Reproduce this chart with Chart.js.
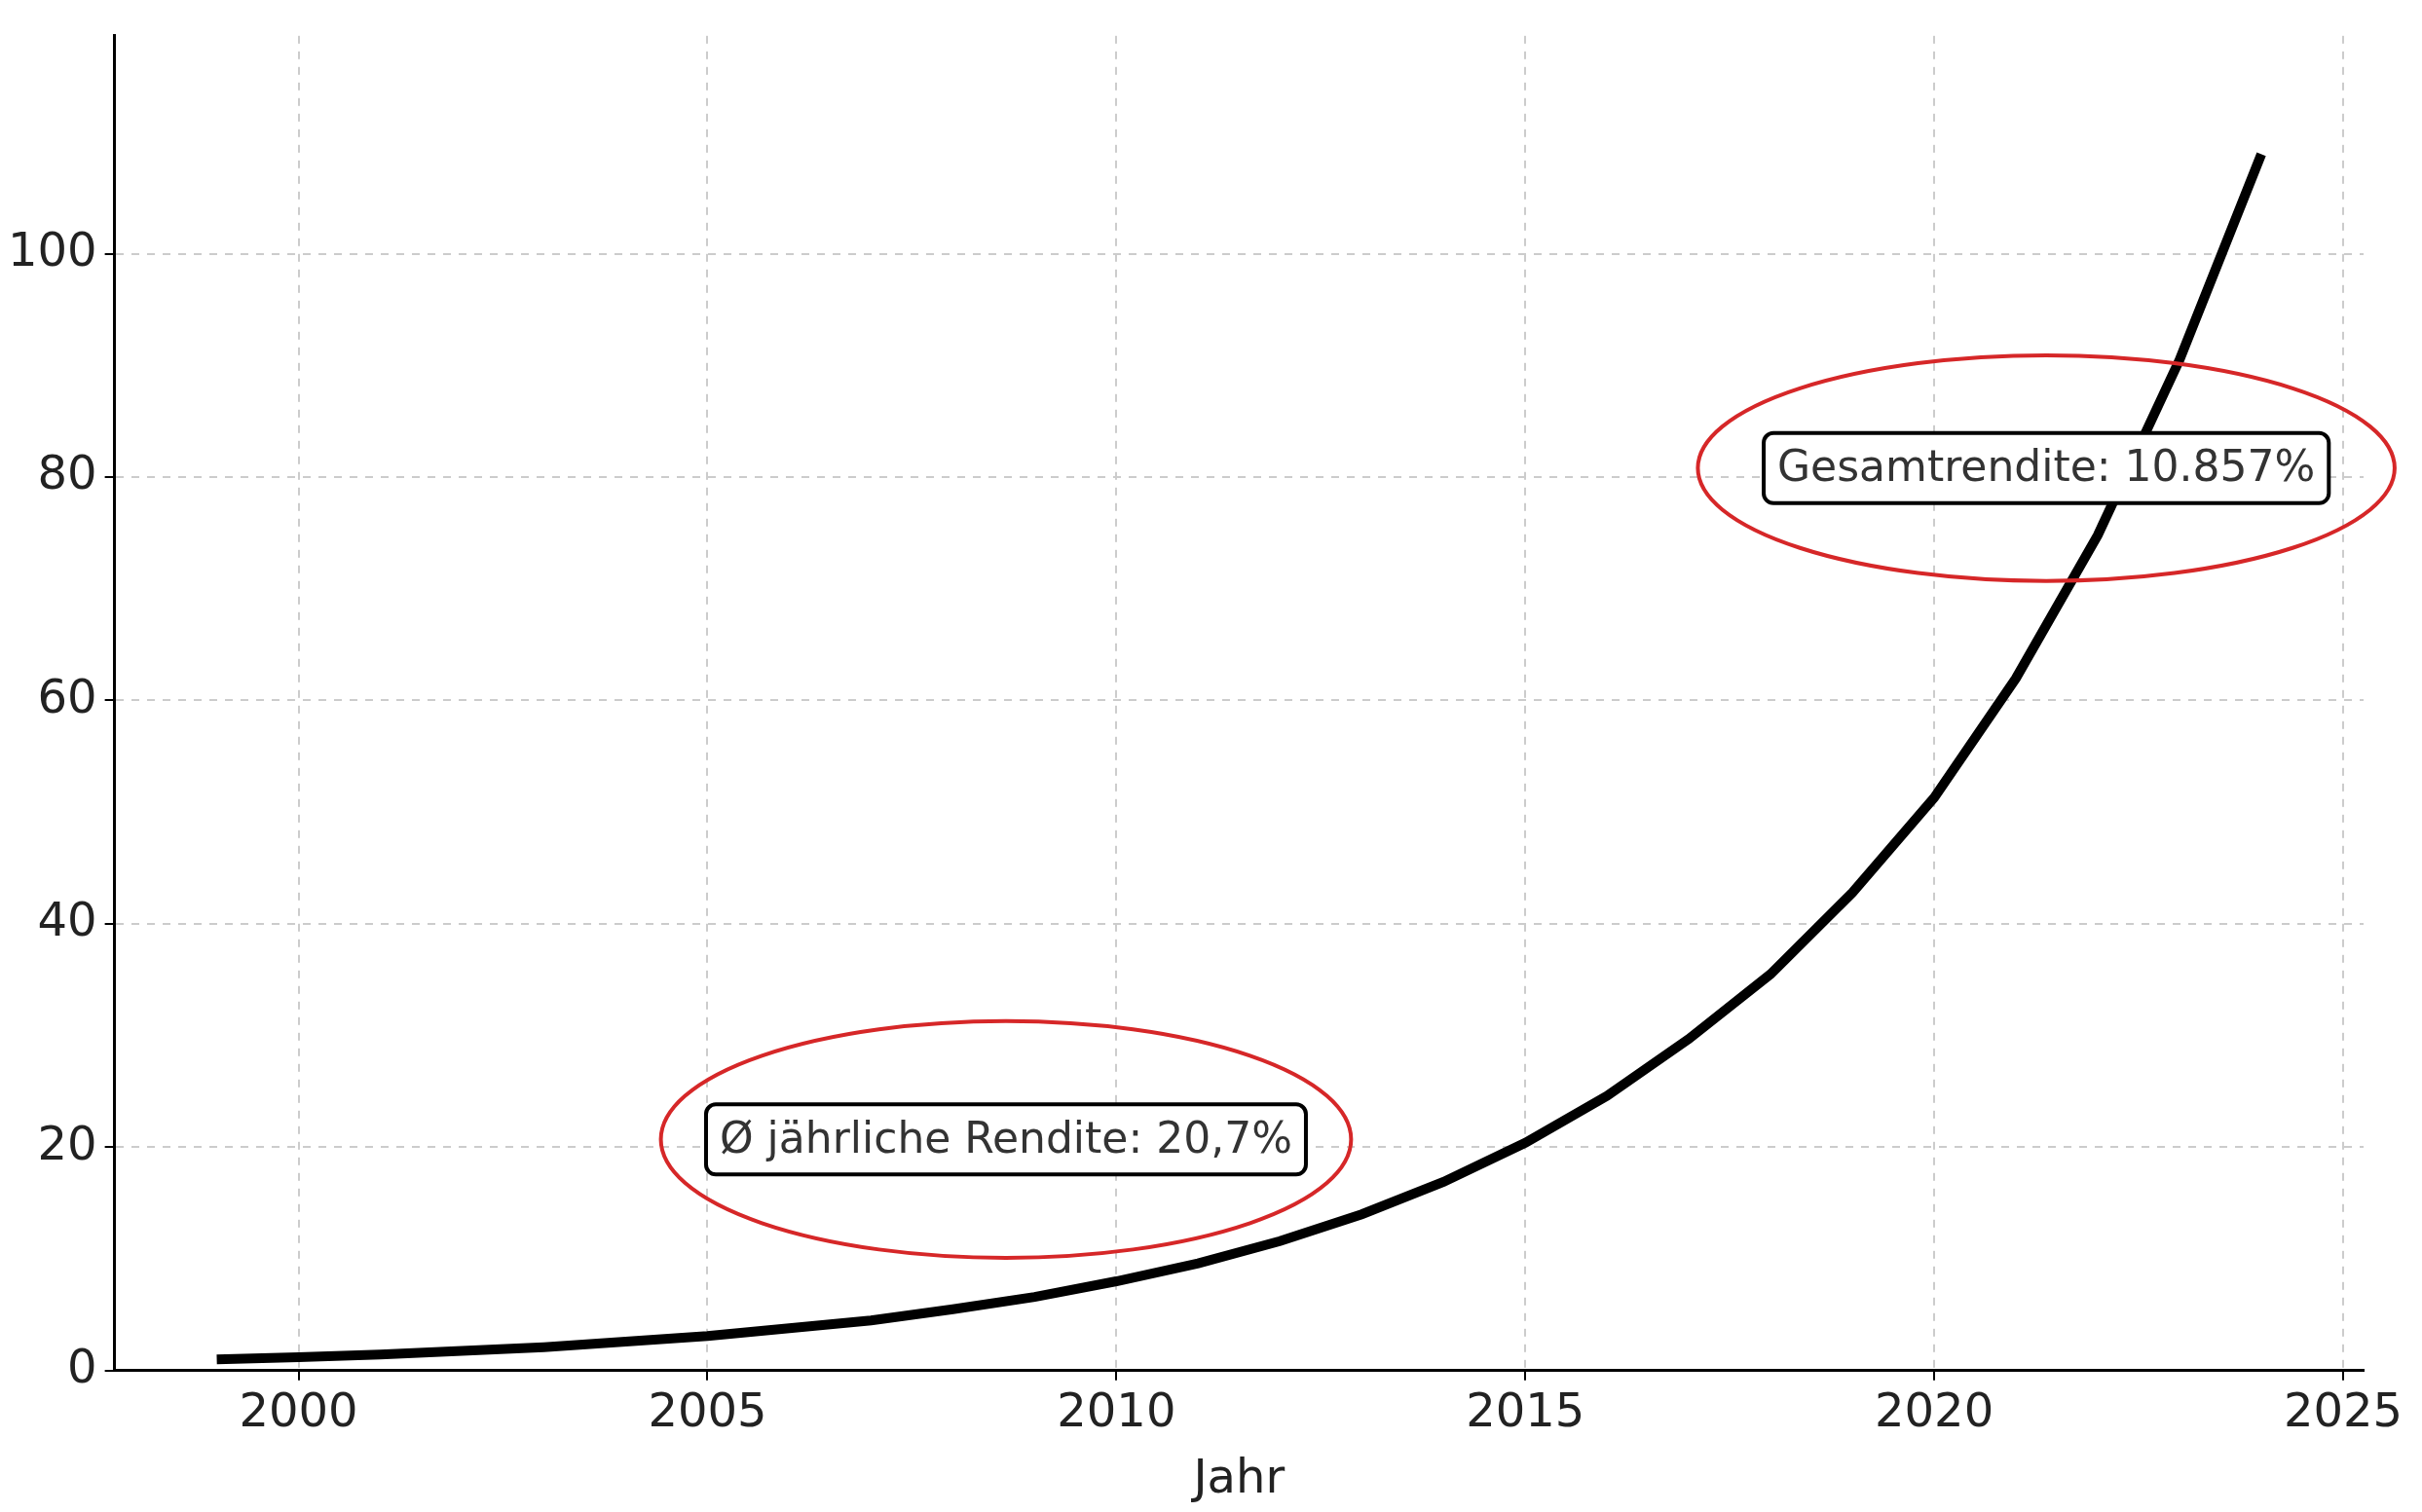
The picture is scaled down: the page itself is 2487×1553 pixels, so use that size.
<!DOCTYPE html>
<html><head><meta charset="utf-8">
<script src="https://cdn.jsdelivr.net/npm/chart.js@4"></script>
<style>html,body{margin:0;background:#fff}#wrap{width:2487px;height:1553px}</style>
</head><body><div id="wrap"><canvas id="c"></canvas></div>
<script>
// Werte
const years = [1999,2000,2001,2002,2003,2004,2005,2006,2007,2008,2009,2010,2011,2012,2013,2014,2015,2016,2017,2018,2019,2020,2021,2022,2023,2024];
const values = [1.0,1.2,1.45,1.76,2.1,2.6,3.1,3.8,4.5,5.5,6.6,8.0,9.6,11.6,14.0,16.9,20.4,24.6,29.7,35.5,42.8,51.3,62.0,74.8,90.5,108.9];
const xTicks = [2000,2005,2010,2015,2020,2025];
const yTicks = [0,20,40,60,80,100];
const notes = [
  {text: 'Ø jährliche Rendite: 20,7%', x: 2008.65, y: 20.7, rx: 4.22, ry: 10.6},
  {text: 'Gesamtrendite: 10.857%', x: 2021.37, y: 80.8, rx: 4.26, ry: 10.1}
];

const font = '"DejaVu Sans", sans-serif';

// Ellipsen und Textboxen
const notePlugin = {
  id: 'notes',
  afterDatasetsDraw(chart) {
    const {ctx, scales: {x, y}} = chart;
    notes.forEach(n => {
      const cx = x.getPixelForValue(n.x), cy = y.getPixelForValue(n.y);
      const rx = Math.abs(x.getPixelForValue(n.x + n.rx) - cx);
      const ry = Math.abs(y.getPixelForValue(n.y + n.ry) - cy);
      ctx.save();
      ctx.strokeStyle = '#d62728';
      ctx.lineWidth = 4;
      ctx.beginPath();
      ctx.ellipse(cx, cy, rx, ry, 0, 0, Math.PI * 2);
      ctx.stroke();
      ctx.font = '44px ' + font;
      const w = ctx.measureText(n.text).width + 28, h = 72;
      ctx.fillStyle = '#fff';
      ctx.strokeStyle = '#000';
      ctx.lineWidth = 4;
      ctx.beginPath();
      ctx.roundRect(cx - w / 2, cy - h / 2, w, h, 10);
      ctx.fill();
      ctx.stroke();
      ctx.fillStyle = '#333';
      ctx.textAlign = 'center';
      ctx.textBaseline = 'middle';
      ctx.fillText(n.text, cx, cy + 2);
      ctx.restore();
    });
  }
};

new Chart(document.getElementById('c'), {
  type: 'line',
  data: {
    datasets: [{
      data: years.map((yr, i) => ({x: yr, y: values[i]})),
      borderColor: '#000',
      borderWidth: 10,
      pointRadius: 0,
      tension: 0
    }]
  },
  options: {
    responsive: true,
    maintainAspectRatio: false,
    animation: false,
    layout: {padding: {top: 8, right: 60, left: 0, bottom: 0}},
    plugins: {legend: {display: false}, tooltip: {enabled: false}},
    scales: {
      x: {
        type: 'linear', min: 1997.75, max: 2025.25,
        afterBuildTicks: ax => { ax.ticks = xTicks.map(v => ({value: v})); },
        ticks: {color: '#222', font: {size: 48, family: font}, callback: v => String(v), maxRotation: 0, padding: 6},
        grid: {color: '#ccc', lineWidth: 2, tickColor: '#000', tickLength: 10},
        border: {color: '#000', width: 3, dash: [8, 8]},
        title: {display: true, text: 'Jahr', color: '#222', font: {size: 48, family: font}, padding: {top: 4}}
      },
      y: {
        min: 0, max: 119.5,
        afterBuildTicks: ax => { ax.ticks = yTicks.map(v => ({value: v})); },
        ticks: {color: '#222', font: {size: 48, family: font}, padding: 8},
        grid: {color: '#ccc', lineWidth: 2, tickColor: '#000', tickLength: 10},
        border: {color: '#000', width: 3, dash: [8, 8]}
      }
    }
  },
  plugins: [notePlugin]
});
</script>
</body></html>
